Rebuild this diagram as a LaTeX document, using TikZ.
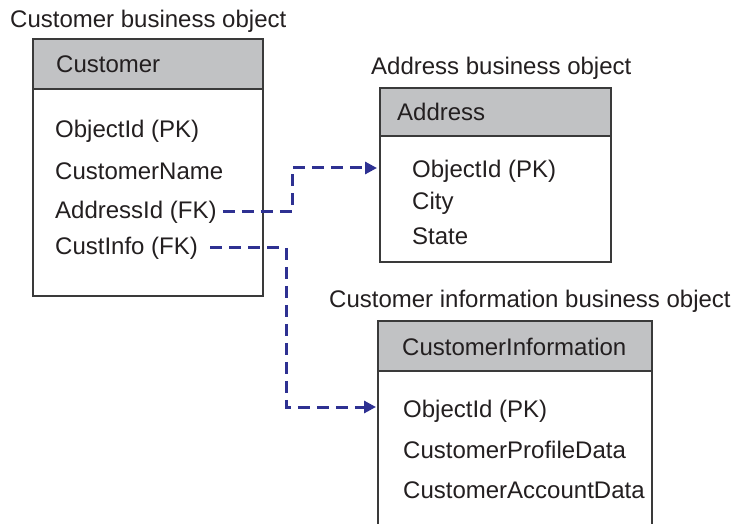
\documentclass[tikz,border=0pt]{standalone}
\usepackage{fontspec}
\setmainfont{Liberation Sans}
\usetikzlibrary{arrows.meta}
\definecolor{edge}{HTML}{3A3A3A}
\definecolor{hdr}{HTML}{C1C2C4}
\definecolor{txt}{HTML}{231F20}
\definecolor{navy}{HTML}{2E3192}
\newcommand{\diagfont}{\fontsize{24}{28}\selectfont}
\begin{document}
\begin{tikzpicture}[x=1pt,y=-1pt,
  bodybox/.style={draw=edge, fill=white, line width=1.3pt, anchor=north west, inner sep=0pt, outer sep=0pt},
  headbox/.style={draw=edge, fill=hdr, line width=1.3pt, anchor=north west, inner sep=0pt, outer sep=0pt},
  lbl/.style={anchor=base west, inner sep=0pt, font=\diagfont, text=txt},
  fk/.style={draw=navy, line width=3pt, dash pattern=on 12pt off 7pt, -{Triangle[length=12pt,width=12pt]}}
]
\useasboundingbox (0,0) rectangle (731,524);
\clip (0,0) rectangle (731,524);
% Customer
\node[bodybox, minimum width=230pt, minimum height=257pt] (cbox) at (33,39) {};
\node[headbox, minimum width=230pt, minimum height=50pt] (chead) at (33,39) {};
\node[lbl] (ctitle) at (10,28) {Customer business object};
\node[lbl] (cname) at (56,73) {Customer};
\node[lbl] (cobj) at (55,138) {ObjectId (PK)};
\node[lbl] (cnm) at (55,179) {CustomerName};
\node[lbl] (caddr) at (55,218) {AddressId (FK)};
\node[lbl] (cinfo) at (55,254) {CustInfo (FK)};
% Address
\node[bodybox, minimum width=231pt, minimum height=174pt] (abox) at (380,88) {};
\node[headbox, minimum width=231pt, minimum height=48pt] (ahead) at (380,88) {};
\node[lbl] (atitle) at (371,75) {Address business object};
\node[lbl] (aname) at (397,121) {Address};
\node[lbl] (aobj) at (412,177) {ObjectId (PK)};
\node[lbl] (acity) at (412,209) {City};
\node[lbl] (astate) at (412,244) {State};
% Customer information
\node[bodybox, minimum width=274pt, minimum height=230pt] (ibox) at (378,321) {};
\node[headbox, minimum width=274pt, minimum height=50pt] (ihead) at (378,321) {};
\node[lbl] (ititle) at (329,307) {Customer information business object};
\node[lbl] (iname) at (402,355) {CustomerInformation};
\node[lbl] (iobj) at (403,417) {ObjectId (PK)};
\node[lbl] (iprof) at (403,458) {CustomerProfileData};
\node[lbl] (iacct) at (403,498) {CustomerAccountData};
% connectors
\coordinate (b1) at (292,168);
\coordinate (b2) at (286,407);
\draw[fk, shorten >=3pt] ([xshift=6pt]caddr.east) -| (b1) -- (b1 -| abox.west);
\draw[fk, shorten >=2pt] ([xshift=12pt]cinfo.east) -| (b2) -- (b2 -| ibox.west);
\end{tikzpicture}
\end{document}
